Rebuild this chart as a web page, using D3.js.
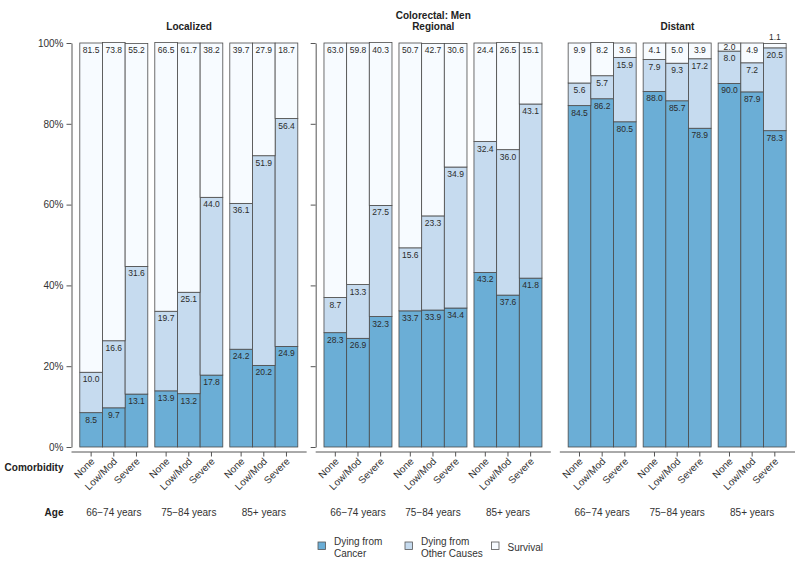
<!DOCTYPE html>
<html>
<head>
<meta charset="utf-8">
<script src="https://cdn.jsdelivr.net/npm/d3@7"></script>
<style>
  body { margin: 0; background: #fff; }
  svg { font-family: "Liberation Sans", Arial, sans-serif; }
</style>
</head>
<body>
<svg id="chart" width="800" height="569"></svg>
<script>
// Categories
const stages = ["Localized", "Regional", "Distant"];
const ages = ["66\u221274 years", "75\u221284 years", "85+ years"];
const comorbidity = ["None", "Low/Mod", "Severe"];
const causes = ["cancer", "other", "survival"];
const causeLabels = [["Dying from", "Cancer"], ["Dying from", "Other Causes"], ["Survival"]];
const yTicks = [0, 20, 40, 60, 80, 100];

// Percentages per stage, ordered age-group by age-group (None, Low/Mod, Severe)
const cancer = [
    [8.5, 9.7, 13.1, 13.9, 13.2, 17.8, 24.2, 20.2, 24.9],
    [28.3, 26.9, 32.3, 33.7, 33.9, 34.4, 43.2, 37.6, 41.8],
    [84.5, 86.2, 80.5, 88.0, 85.7, 78.9, 90.0, 87.9, 78.3]
];
const other = [
    [10.0, 16.6, 31.6, 19.7, 25.1, 44.0, 36.1, 51.9, 56.4],
    [8.7, 13.3, 27.5, 15.6, 23.3, 34.9, 32.4, 36.0, 43.1],
    [5.6, 5.7, 15.9, 7.9, 9.3, 17.2, 8.0, 7.2, 20.5]
];
const survival = [
    [81.5, 73.8, 55.2, 66.5, 61.7, 38.2, 39.7, 27.9, 18.7],
    [63.0, 59.8, 40.3, 50.7, 42.7, 30.6, 24.4, 26.5, 15.1],
    [9.9, 8.2, 3.6, 4.1, 5.0, 3.9, 2.0, 4.9, 1.1]
];

const colors = { cancer: "#6baed6", other: "#c6dbef", survival: "#f7fbff" };
const font = "\"Liberation Sans\", Arial, sans-serif";

// Build rows
const rows = [];
stages.forEach((s, si) => {
    ages.forEach((a, ai) => {
        comorbidity.forEach((c, ci) => {
            const k = ai * 3 + ci;
            rows.push({ stage: s, age: a, com: c,
                cancer: cancer[si][k], other: other[si][k], survival: survival[si][k] });
        });
    });
});

const series = d3.stack().keys(causes)(rows);

const svg = d3.select("#chart");

// Scales
const x = d3.scaleBand().domain(stages).range([71.5, 795]).paddingInner(0.037);
const xAge = d3.scaleBand().domain(ages).range([8.3, 226.3]).paddingInner(0.0933);
const xCom = d3.scaleBand().domain(comorbidity).range([0, xAge.bandwidth()]);
const y = d3.scaleLinear().domain([0, 100]).range([447, 43]);

const barX = d => x(d.stage) + xAge(d.age) + xCom(d.com);
const barMid = d => barX(d) + xCom.bandwidth() / 2;

// Bars
series.forEach(ser => {
    svg.append("g")
        .selectAll("rect")
        .data(ser)
        .enter()
        .append("rect")
        .attr("x", d => barX(d.data))
        .attr("width", xCom.bandwidth())
        .attr("y", d => y(d[1]))
        .attr("height", d => y(d[0]) - y(d[1]))
        .attr("fill", colors[ser.key])
        .attr("stroke", "#4a4a4a")
        .attr("stroke-width", 0.8);
});

// Value labels
series.forEach(ser => {
    svg.append("g")
        .selectAll("text")
        .data(ser)
        .enter()
        .append("text")
        .attr("x", d => barMid(d.data))
        .attr("y", d => {
            const top = y(d[1]), h = y(d[0]) - y(d[1]);
            if (h < 6) return top - 3;          // too small: above the bar
            if (h < 12) return top + h / 2 + 3; // small: centred
            return top + 10;
        })
        .attr("text-anchor", "middle")
        .attr("font-size", "8.5px")
        .attr("fill", "#2b2b2b")
        .text(d => d.data[ser.key].toFixed(1));
});

// Y axes (labels on first panel only, ticks on second)
svg.append("g")
    .attr("transform", `translate(${x("Localized")},0)`)
    .call(d3.axisLeft(y).tickValues(yTicks).tickSize(5).tickSizeOuter(0).tickFormat(d => d + "%"))
    .call(g => g.selectAll("text").attr("font-size", "10px").attr("fill", "#333").attr("font-family", font))
    .call(g => g.selectAll("line,path").attr("stroke", "#555"));

svg.append("g")
    .attr("transform", `translate(${x("Regional")},0)`)
    .call(d3.axisLeft(y).tickValues(yTicks).tickSize(5).tickSizeOuter(0).tickFormat(""))
    .call(g => g.selectAll("line,path").attr("stroke", "#555"));

// X axes per panel
const axisY = 452;
stages.forEach(s => {
    const g = svg.append("g");
    g.append("line")
        .attr("x1", x(s)).attr("x2", x(s) + x.bandwidth())
        .attr("y1", axisY).attr("y2", axisY)
        .attr("stroke", "#555");
    const panelRows = rows.filter(r => r.stage === s);
    g.selectAll("line.tick")
        .data(panelRows)
        .enter()
        .append("line")
        .attr("class", "tick")
        .attr("x1", barMid).attr("x2", barMid)
        .attr("y1", axisY).attr("y2", axisY + 4.5)
        .attr("stroke", "#555");
    g.selectAll("text.com")
        .data(panelRows)
        .enter()
        .append("text")
        .attr("class", "com")
        .attr("transform", d => `translate(${barMid(d) + 4},${axisY + 10}) rotate(-45)`)
        .attr("text-anchor", "end")
        .attr("font-size", "10px")
        .attr("fill", "#333")
        .text(d => d.com);
    g.selectAll("text.age")
        .data(ages)
        .enter()
        .append("text")
        .attr("class", "age")
        .attr("x", a => x(s) + xAge(a) + xAge.bandwidth() / 2)
        .attr("y", 516)
        .attr("text-anchor", "middle")
        .attr("font-size", "10px")
        .attr("fill", "#333")
        .text(a => a);
});

// Row titles
svg.append("text").attr("x", 63.5).attr("y", 471).attr("text-anchor", "end")
    .attr("font-size", "10px").attr("font-weight", "bold").attr("fill", "#222").text("Comorbidity");
svg.append("text").attr("x", 63.5).attr("y", 516).attr("text-anchor", "end")
    .attr("font-size", "10px").attr("font-weight", "bold").attr("fill", "#222").text("Age");

// Panel titles
svg.append("text").attr("x", x("Regional") + x.bandwidth() / 2).attr("y", 18.5)
    .attr("text-anchor", "middle").attr("font-size", "10px").attr("font-weight", "bold")
    .attr("fill", "#222").text("Colorectal: Men");
svg.selectAll("text.title")
    .data(stages)
    .enter()
    .append("text")
    .attr("class", "title")
    .attr("x", s => x(s) + x.bandwidth() / 2)
    .attr("y", 30)
    .attr("text-anchor", "middle")
    .attr("font-size", "10px")
    .attr("font-weight", "bold")
    .attr("fill", "#222")
    .text(s => s);

// Legend
const legendX = [318, 405, 491.5];
const legend = svg.append("g");
causes.forEach((c, i) => {
    const lg = legend.append("g").attr("transform", `translate(${legendX[i]},542)`);
    lg.append("rect")
        .attr("width", 7.5).attr("height", 7.5)
        .attr("fill", colors[c]).attr("stroke", "#555").attr("stroke-width", 0.8);
    const lines = causeLabels[i];
    lg.selectAll("text")
        .data(lines)
        .enter()
        .append("text")
        .attr("x", 16)
        .attr("y", (d, j) => lines.length === 1 ? 8.5 : 3 + j * 11.5)
        .attr("font-size", "10px")
        .attr("fill", "#333")
        .text(d => d);
});
</script>
</body>
</html>
